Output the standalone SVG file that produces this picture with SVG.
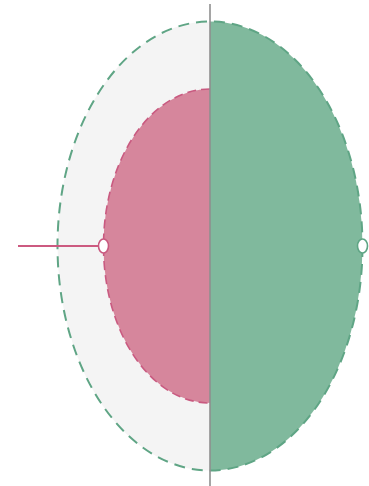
<svg xmlns="http://www.w3.org/2000/svg" width="369" height="486" viewBox="0 0 369 486">
<style>
.outer{stroke:#5fa585;stroke-width:2;stroke-dasharray:11 7;}
.inner{stroke:#c95a80;stroke-width:1.6;stroke-dasharray:9 5;}
.axis{stroke:#8f8f8f;stroke-width:1.6;}
</style>
<g id="outer-left">
<path d="M210,21.5 A152.5,224.5 0 0 0 210,470.5 Z" fill="#f4f4f4" stroke="none"/>
</g>
<g id="outer-right">
<path d="M210,21.5 A152.5,224.5 0 0 1 210,470.5 Z" fill="#80b99d" stroke="none"/>
</g>
<g id="outer-ring">
<ellipse cx="210" cy="246" rx="152.5" ry="224.5" fill="none" class="outer"/>
</g>
<g id="inner-left">
<path d="M210,89 A106.5,157 0 0 0 210,403 Z" fill="#d6869c" stroke="none"/>
<path d="M210,89 A106.5,157 0 0 0 210,403" fill="none" class="inner"/>
</g>
<g id="connectors">
<line x1="210" y1="4" x2="210" y2="486" class="axis"/>
<line x1="18" y1="246" x2="103" y2="246" stroke="#cc5a80" stroke-width="2"/>
</g>
<g id="port-left">
<ellipse cx="103.5" cy="246" rx="5" ry="7" fill="#ffffff" stroke="#c95a80" stroke-width="1.6"/>
</g>
<g id="port-right">
<ellipse cx="362.5" cy="246" rx="5" ry="7" fill="#ffffff" stroke="#5fa585" stroke-width="1.6"/>
</g>
</svg>
